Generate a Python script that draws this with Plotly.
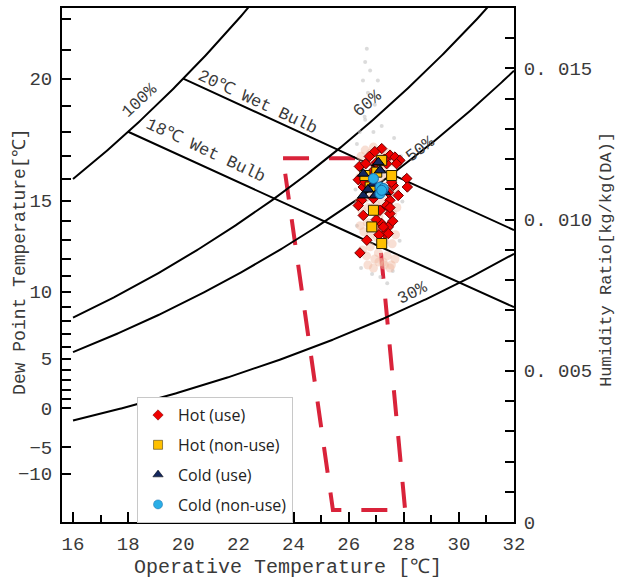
import numpy as np
import plotly.graph_objects as go

# ---------------- data ----------------
rh_levels = [100, 60, 50, 30]
rh_labels = ["100%", "60%", "50%", "30%"]
wet_bulb_temps = [20, 18]
wet_bulb_labels = ["20℃ Wet Bulb", "18℃ Wet Bulb"]

x_tick_vals = [16, 18, 20, 22, 24, 26, 28, 30, 32]
dew_point_ticks = [-10, -5] + list(range(0, 23))
dew_point_labels = {20: "20", 15: "15", 10: "10", 5: "5", 0: "0", -5: "−5", -10: "−10"}
hr_tick_vals = [0.001 * i for i in range(0, 17)]
hr_tick_labels = {0: "0", 5: "0. 005", 10: "0. 010", 15: "0. 015"}

comfort_zone_t = [23.62, 26.85, 28.05, 25.43, 23.62]
comfort_zone_w = [0.01203, 0.01203, 0.0004, 0.0004, 0.01203]

hot_use_t = [26.39, 26.75, 27.20, 27.50, 27.68, 27.86, 27.74, 27.02, 26.84, 27.38,
             28.11, 28.13, 26.35, 26.53, 27.62, 27.80, 26.47, 27.50, 27.38, 26.53,
             27.50, 27.50, 27.20, 27.32, 26.66, 26.41, 27.44, 27.26, 27.44, 26.59,
             27.56, 26.35, 27.14, 26.95, 27.30, 26.62, 27.00, 27.45, 26.90, 27.10, 27.60]
hot_use_w = [0.01176, 0.01209, 0.01235, 0.01213, 0.01207, 0.01196, 0.01185, 0.01190, 0.01157, 0.01185,
             0.01136, 0.01108, 0.01132, 0.01108, 0.01113, 0.01080, 0.01064, 0.01064, 0.01047, 0.01014,
             0.01020, 0.01040, 0.00987, 0.00954, 0.00932, 0.00890, 0.00976, 0.00976, 0.00954, 0.01124,
             0.01124, 0.01047, 0.01031, 0.01225, 0.01200, 0.01185, 0.01000, 0.01090, 0.01070, 0.00950, 0.00995]

hot_nonuse_t = [27.20, 27.02, 27.56, 26.78, 26.90, 26.84, 27.20, 26.59]
hot_nonuse_w = [0.01196, 0.01157, 0.01146, 0.01108, 0.01031, 0.00976, 0.00921, 0.01146]

cold_use_t = [27.08, 26.53, 26.90, 27.32, 26.53, 26.96, 27.14, 26.70]
cold_use_w = [0.01190, 0.01152, 0.01119, 0.01091, 0.01080, 0.01080, 0.01163, 0.01100]

cold_nonuse_t = [26.90, 27.14, 27.26, 27.14, 27.20]
cold_nonuse_w = [0.01136, 0.01108, 0.01103, 0.01086, 0.01097]

cloud_t = [26.45, 26.55, 26.60, 26.70, 26.80, 26.90, 27.00, 27.10, 27.25, 27.35, 27.45, 27.55,
           26.40, 26.50, 26.62, 26.75, 26.88, 27.00, 27.15, 27.30, 27.42, 27.58, 27.70,
           26.38, 26.48, 26.60, 26.72, 26.85, 26.98, 27.10, 27.22, 27.35, 27.48, 27.60, 27.75,
           26.42, 26.55, 26.68, 26.80, 26.92, 27.05, 27.18, 27.30, 27.45, 27.58, 27.70,
           26.50, 26.65, 26.78, 26.95, 27.08, 27.25, 27.40, 27.55, 27.68,
           26.70, 26.90, 27.10, 27.30, 27.50]
cloud_w = [0.0121, 0.0118, 0.0123, 0.0119, 0.0122, 0.0124, 0.0120, 0.0117, 0.0121, 0.0118, 0.0122, 0.0119,
           0.0114, 0.0111, 0.0115, 0.0113, 0.0116, 0.0112, 0.0114, 0.0111, 0.0115, 0.0112, 0.0110,
           0.0106, 0.0103, 0.0107, 0.0104, 0.0108, 0.0105, 0.0101, 0.0106, 0.0103, 0.0107, 0.0102, 0.0104,
           0.0098, 0.0096, 0.0099, 0.0095, 0.0098, 0.0094, 0.0097, 0.0093, 0.0096, 0.0092, 0.0095,
           0.0090, 0.0088, 0.0091, 0.0087, 0.0089, 0.0086, 0.0088, 0.0085, 0.0087,
           0.0085, 0.0084, 0.0086, 0.0085, 0.0084]

faint_t = [26.66, 26.60, 26.78, 26.52, 27.06, 26.70, 26.95, 26.58, 27.20, 26.40, 27.65, 26.30,
           27.90, 28.00, 26.25, 27.95, 26.30, 27.85, 26.45, 27.60, 27.15, 26.85, 27.40, 26.60, 26.90]
faint_w = [0.01565, 0.01521, 0.01493, 0.01460, 0.01460, 0.0142, 0.0138, 0.0134, 0.0131, 0.0129, 0.0127, 0.0125,
           0.0121, 0.0114, 0.0110, 0.0106, 0.0098, 0.0093, 0.0084, 0.0083, 0.0081, 0.0082, 0.0079, 0.0133, 0.0129]

# ---------------- psychrometrics ----------------
P_ATM = 101.325


def pws(t):
    t = np.asarray(t, dtype=float)
    water = 0.61094 * np.exp(17.625 * t / (t + 243.04))
    ice = 0.61115 * np.exp(22.452 * t / (272.55 + t))
    return np.where(t < 0, ice, water)


def w_from_pw(pw):
    return 0.622 * pw / (P_ATM - pw)


def w_wet_bulb(t, twb):
    ws = w_from_pw(pws(twb))
    return ((2501 - 2.326 * twb) * ws - 1.006 * (t - twb)) / (2501 + 1.86 * t - 4.186 * twb)


X_RANGE = [15.6, 32.0]
Y_RANGE = [0.0, 0.017]
TXT = "#3a3a3a"
MONO = "Liberation Mono, DejaVu Sans Mono, monospace"

fig = go.Figure()

# comfort zone
fig.add_trace(go.Scatter(x=comfort_zone_t, y=comfort_zone_w, mode="lines",
                         line=dict(color="#d9233a", width=4, dash="26px,20px"),
                         hoverinfo="skip", showlegend=False))

# RH curves
t_grid = np.linspace(16, 32, 321)
for rh in rh_levels:
    fig.add_trace(go.Scatter(x=t_grid, y=w_from_pw(rh / 100 * pws(t_grid)), mode="lines",
                             line=dict(color="black", width=2), hoverinfo="skip", showlegend=False))

# wet bulb lines
for twb in wet_bulb_temps:
    tt = np.linspace(twb, 32, 100)
    fig.add_trace(go.Scatter(x=tt, y=w_wet_bulb(tt, twb), mode="lines",
                             line=dict(color="black", width=2), hoverinfo="skip", showlegend=False))

# background cloud
fig.add_trace(go.Scatter(x=faint_t, y=faint_w, mode="markers",
                         marker=dict(size=4, color="rgba(190,190,190,0.55)"),
                         hoverinfo="skip", showlegend=False))
fig.add_trace(go.Scatter(x=cloud_t, y=cloud_w, mode="markers",
                         marker=dict(size=9, color="rgba(240,185,160,0.45)"),
                         hoverinfo="skip", showlegend=False))

series = [
    ("Hot (use)", hot_use_t, hot_use_w, "diamond", 8, "#ee0000", "#6a0000", 8),
    ("Hot (non-use)", hot_nonuse_t, hot_nonuse_w, "square", 10, "#ffc000", "#2b2000", 9),
    ("Cold (use)", cold_use_t, cold_use_w, "triangle-up", 10, "#14285e", "#000000", 9),
    ("Cold (non-use)", cold_nonuse_t, cold_nonuse_w, "circle", 10, "#2aaee6", "#1668a8", 9),
]
for name, xs, ys, sym, size, fill, edge, lsize in series:
    fig.add_trace(go.Scatter(x=xs, y=ys, mode="markers", name=name, showlegend=False,
                             marker=dict(symbol=sym, size=size, color=fill,
                                         line=dict(color=edge, width=1))))
for name, xs, ys, sym, size, fill, edge, lsize in series:
    fig.add_trace(go.Scatter(x=[None], y=[None], mode="markers", name=name, legendgroup=name,
                             marker=dict(symbol=sym, size=lsize, color=fill,
                                         line=dict(color=edge, width=0.5))))

# dummy trace on the right axis
fig.add_trace(go.Scatter(x=[None], y=[None], yaxis="y2", showlegend=False, hoverinfo="skip"))

# labels on curves
label_font = dict(family=MONO, size=17, color=TXT)
curve_labels = [
    (rh_labels[0], 18.43, 0.01394, -43),
    (rh_labels[1], 26.70, 0.01384, -40),
    (rh_labels[2], 28.60, 0.01232, -37),
    (rh_labels[3], 28.30, 0.00757, -27),
    (wet_bulb_labels[0], 22.71, 0.01388, 25),
    (wet_bulb_labels[1], 20.79, 0.01229, 25),
]
for text, x, y, ang in curve_labels:
    fig.add_annotation(x=x, y=y, text=text, showarrow=False, textangle=ang, font=label_font)

# axis titles for the two y axes
fig.add_annotation(x=(20 - 62) / 452, y=0.506, xref="paper", yref="paper", xanchor="center", yanchor="middle",
                   text="Dew Point Temperature[℃]",
                   showarrow=False, textangle=-90, font=dict(family=MONO, size=18, color=TXT))
fig.add_annotation(x=(607 - 62) / 452, y=0.51, xref="paper", yref="paper", xanchor="center", yanchor="middle",
                   text="Humidity Ratio[kg/kg(DA)]",
                   showarrow=False, textangle=-90, font=dict(family=MONO, size=17, color=TXT))

left_vals = [float(w_from_pw(pws(d))) for d in dew_point_ticks]
left_text = [dew_point_labels.get(d, "") for d in dew_point_ticks]
right_text = [hr_tick_labels.get(i, "") for i in range(len(hr_tick_vals))]

axis_font = dict(family=MONO, size=19, color=TXT)

fig.update_layout(
    width=618, height=579,
    margin=dict(l=62, r=104, t=8, b=57, autoexpand=False),
    paper_bgcolor="white", plot_bgcolor="white",
    xaxis=dict(range=X_RANGE, tickmode="array", tickvals=x_tick_vals, automargin=False,
               ticks="inside", ticklen=10, tickwidth=2, tickcolor="black",
               minor=dict(dtick=1, tick0=16, ticks="inside", ticklen=7, tickwidth=2, tickcolor="black"),
               showline=True, linecolor="black", linewidth=2, mirror=True,
               showgrid=False, zeroline=False, tickfont=axis_font, ticklabelstandoff=3,
               title=dict(text="Operative Temperature [℃]", font=dict(family=MONO, size=20, color=TXT),
                          standoff=2)),
    yaxis=dict(range=Y_RANGE, tickmode="array", tickvals=left_vals, ticktext=left_text, automargin=False,
               ticks="inside", ticklen=9, tickwidth=2, tickcolor="black",
               showline=True, linecolor="black", linewidth=2,
               showgrid=False, zeroline=False, tickfont=axis_font, ticklabelstandoff=4),
    yaxis2=dict(range=Y_RANGE, overlaying="y", side="right", tickmode="array", automargin=False,
                tickvals=hr_tick_vals, ticktext=right_text,
                ticks="inside", ticklen=9, tickwidth=2, tickcolor="black",
                showline=True, linecolor="black", linewidth=2,
                showgrid=False, zeroline=False, tickfont=axis_font, ticklabelstandoff=4),
    legend=dict(x=0.166, y=0.243, xanchor="left", yanchor="top",
                bgcolor="white", bordercolor="#c8c8c8", borderwidth=1,
                font=dict(family="Open Sans, Lato, sans-serif", size=16, color="#222"),
                tracegroupgap=6, itemwidth=30),
    showlegend=True,
)

fig.write_html("out.html", config={"displayModeBar": False},
               post_script="document.body.style.margin='0px';")
